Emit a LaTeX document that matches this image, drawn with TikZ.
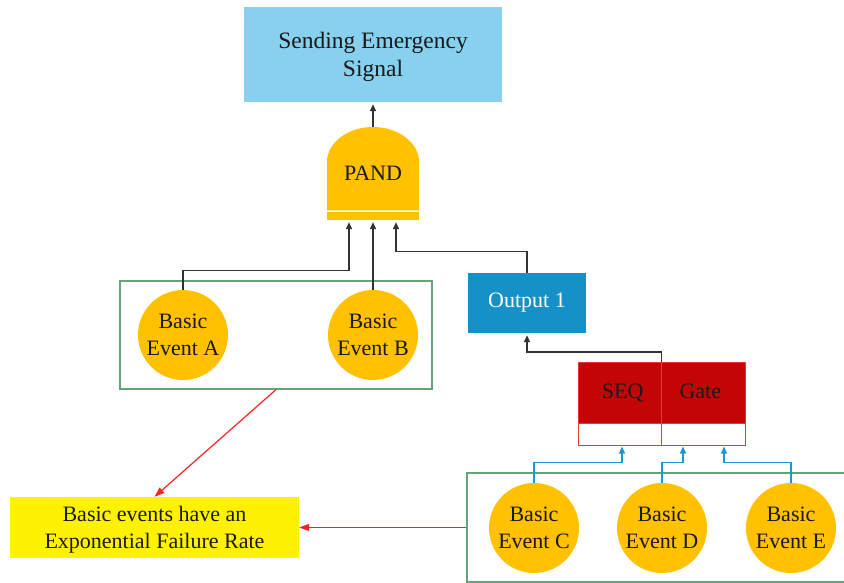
\documentclass[tikz,border=0pt]{standalone}
\usepackage{fontspec}
\setmainfont{Liberation Serif}
\usetikzlibrary{arrows.meta,calc}
\definecolor{skyfill}{RGB}{135,208,238}
\definecolor{gatefill}{RGB}{255,193,0}
\definecolor{outfill}{RGB}{22,145,200}
\definecolor{seqred}{RGB}{195,5,5}
\definecolor{seqline}{RGB}{225,60,60}
\definecolor{grp}{RGB}{100,165,120}
\definecolor{bluelink}{RGB}{30,150,210}
\definecolor{redlink}{RGB}{250,35,35}
\definecolor{darkline}{RGB}{50,50,50}
\definecolor{ink}{RGB}{25,25,25}
\begin{document}
\begin{tikzpicture}[x=1pt,y=-1pt,
  font=\fontsize{22}{27}\selectfont, text=ink,
  event/.style={circle, fill=gatefill, minimum size=90pt, inner sep=0pt, align=center},
  group/.style={draw=grp, line width=1.2pt, inner sep=0pt},
  link/.style={darkline, line width=1.3pt, shorten >=2pt, -{Triangle[length=7pt,width=6pt]}},
  seqlink/.style={bluelink, line width=1.3pt, shorten >=1pt, -{Triangle[length=7pt,width=6pt]}},
  note/.style={redlink, line width=1.2pt, -{Triangle[length=10pt,width=7pt]}}]
\useasboundingbox (0,0) rectangle (844,583);

% top event
\node[fill=skyfill, minimum width=258pt, minimum height=95pt, inner sep=0pt] (top) at (373,54.5) {};
\node[align=center, inner sep=0pt, font=\fontsize{23.5}{27.5}\selectfont]
  (toptext) at (373,57) {Sending Emergency\\Signal};

% PAND gate: dome body with a base band
\fill[gatefill] (327,210.5) -- (327,162) .. controls (327,142.7) and (347.6,127) .. (373,127)
  .. controls (398.4,127) and (419,142.7) .. (419,162) -- (419,210.5) -- cycle;
\fill[gatefill] (327,212.5) rectangle (419,220);
\node[minimum width=92pt, minimum height=93pt, inner sep=0pt] (pand) at (373,173.5) {PAND};

% intermediate output
\node[fill=outfill, text=white, minimum width=118pt, minimum height=60pt, inner sep=0pt]
  (out) at (527,303) {Output 1};

% SEQ gate
\node[fill=seqred, draw=seqline, line width=1pt, minimum width=167pt, minimum height=61pt, inner sep=0pt]
  (seq) at (661.5,392.5) {SEQ\hspace{36pt}Gate};
\node[fill=white, draw=seqline, line width=1pt, minimum width=167pt, minimum height=22pt, inner sep=0pt]
  (seqbase) at (661.5,434) {};
\draw[seqline, line width=1pt] (seq.north) -- (seqbase.south);

% groups of basic events
\node[group, minimum width=312pt, minimum height=108pt] (grpL) at (276,335) {};
\node[group, minimum width=383pt, minimum height=109pt] (grpR) at (658.5,527.5) {};

\node[event] (a) at (183,335) {Basic\\Event A};
\node[event] (b) at (373,335) {Basic\\Event B};
\node[event] (c) at (534,528) {Basic\\Event C};
\node[event] (d) at (662,528) {Basic\\Event D};
\node[event] (e) at (791,528) {Basic\\Event E};

% annotation
\node[fill=yellow, minimum width=289pt, minimum height=61pt, inner sep=0pt] (rate) at (154.5,527.5) {};
\node[align=center, inner sep=0pt] (ratetext) at (154.5,530) {Basic events have an\\Exponential Failure Rate};

% connectors into the PAND gate
\draw[link] (pand.north) -- (top.south);
\draw[link] (a.north) -- ++(0,-19) -| ($(pand.south)+(-24,0)$);
\draw[link] (b.north) -- (pand.south);
\draw[link] (out.north) -- ++(0,-21) -| ($(pand.south)+(23,0)$);
\draw[link] (seq.north) -- ++(0,-9.5) -| (out.south);

% connectors into the SEQ gate
\draw[seqlink] (c.north) -- ++(0,-20) -| ($(seqbase.south)+(-39.5,0)$);
\draw[seqlink] (d.north) -- ++(0,-20) -| ($(seqbase.south)+(21.5,0)$);
\draw[seqlink] (e.north) -- ++(0,-20) -| ($(seqbase.south)+(62.5,0)$);

% notes on the basic events
\draw[note] (grpL.south) -- (rate.north);
\draw[note] (grpR.west) -- (rate.east);
\end{tikzpicture}
\end{document}
